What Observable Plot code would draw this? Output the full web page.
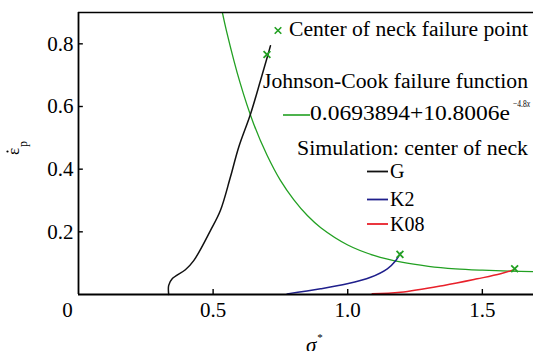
<!DOCTYPE html>
<html><head><meta charset="utf-8">
<script src="https://cdn.jsdelivr.net/npm/d3@7"></script>
<script src="https://cdn.jsdelivr.net/npm/@observablehq/plot@0.6"></script>
<style>
body{margin:0;background:#fff}
svg{display:block}
#chart svg, #chart svg text, #chart svg tspan { font-family: "Liberation Serif", serif !important; }
</style>
</head><body><div id="chart"></div>
<script>
// Johnson-Cook failure curve
const jcX = [0.53, 0.55, 0.6, 0.65, 0.7, 0.75, 0.8, 0.85, 0.9, 1.0, 1.1, 1.2, 1.3, 1.4, 1.5, 1.6, 1.7];
const jcY = [0.918, 0.840, 0.676, 0.546, 0.445, 0.364, 0.302, 0.252, 0.213, 0.158, 0.124, 0.103, 0.090, 0.082, 0.0775, 0.0744, 0.0725];
// Simulation: G
const gX = [0.335, 0.335, 0.348, 0.397, 0.428, 0.49, 0.527, 0.564, 0.595, 0.639, 0.676, 0.701, 0.713];
const gY = [0.0, 0.029, 0.05, 0.079, 0.108, 0.204, 0.268, 0.374, 0.47, 0.576, 0.683, 0.757, 0.794];
// Simulation: K2
const k2X = [0.775, 0.899, 0.998, 1.085, 1.147, 1.178, 1.196];
const k2Y = [0.002, 0.018, 0.034, 0.055, 0.082, 0.108, 0.132];
// Simulation: K08
const k08X = [1.091, 1.196, 1.357, 1.481, 1.568, 1.618];
const k08Y = [0.002, 0.007, 0.029, 0.05, 0.066, 0.079];
// Center of neck failure points
const failX = [0.70, 1.194, 1.62];
const failY = [0.766, 0.128, 0.082];

const seriesNames = ["G", "K2", "K08"];
const seriesColors = ["#111111", "#1f1f8c", "#e8202a"];
const jcColor = "#22a022";

const xTicks = [0.5, 1.0, 1.5];
const yTicks = [0.2, 0.4, 0.6, 0.8];
const originLabel = ["0"];
const xDomain = [0, 1.69];
const yDomain = [0, 0.9];

const font = "Liberation Serif, serif";
const toRows = (xs, ys, s) => xs.map((x, i) => ({x, y: ys[i], s}));
const jc = toRows(jcX, jcY, "JC");
const sims = [
  ...toRows(gX, gY, "G"),
  ...toRows(k2X, k2Y, "K2"),
  ...toRows(k08X, k08Y, "K08")
];
const fails = toRows(failX, failY, "fail");

const plot = Plot.plot({
  width: 533,
  height: 351,
  marginLeft: 78,
  marginRight: 0,
  marginTop: 12,
  marginBottom: 57,
  x: {domain: xDomain},
  y: {domain: yDomain},
  color: {domain: seriesNames, range: seriesColors},
  style: {fontFamily: font, fontSize: "21px", color: "#000", background: "#fff"},
  marks: [
    Plot.line(jc, {x: "x", y: "y", stroke: jcColor, strokeWidth: 1.3, clip: true, curve: "catmull-rom"}),
    Plot.line(sims, {x: "x", y: "y", z: "s", stroke: "s", strokeWidth: 1.5, curve: "catmull-rom"}),
    Plot.dot(fails, {x: "x", y: "y", symbol: "times", r: 3.2, stroke: jcColor, strokeWidth: 1.8}),
    Plot.ruleY([yDomain[1]], {stroke: "#000", strokeWidth: 1.6}),
    Plot.ruleY([0], {stroke: "#000", strokeWidth: 1.8}),
    Plot.ruleX([0], {stroke: "#000", strokeWidth: 1.8}),
    Plot.ruleX(xTicks, {y1: 0, y2: 0.016, stroke: "#000", strokeWidth: 1.4}),
    Plot.ruleY(yTicks, {x1: 0, x2: 0.018, stroke: "#000", strokeWidth: 1.4}),
    Plot.axisX(xTicks, {tickSize: 0, tickPadding: 8, tickFormat: d => d.toFixed(1), label: null, fontFamily: font}),
    Plot.axisY(yTicks, {tickSize: 0, tickPadding: 5, tickFormat: d => d.toFixed(1), label: null, fontFamily: font}),
    Plot.text(originLabel, {x: 0, y: 0, text: d => d, dx: -11, dy: 16, fontSize: 21, fontFamily: font})
  ]
});
document.getElementById("chart").appendChild(plot);

const svg = d3.select(plot);

// x title σ*
const xt = svg.append("text").attr("font-family", font).attr("font-size", 21)
  .attr("x", 306).attr("y", 352).attr("text-anchor", "start");
xt.append("tspan").attr("font-style", "italic").text("σ");
xt.append("tspan").attr("font-size", 11).attr("dy", -11).attr("dx", 1).text("*");

// y title ε̇p
const yg = svg.append("g").attr("transform", "translate(18.5,151.5) rotate(-90)")
  .attr("font-family", font).attr("fill", "#000");
yg.append("text").attr("font-size", 17).attr("text-anchor", "middle").attr("x", 0).attr("y", 0).text("ε");
yg.append("circle").attr("cx", 0).attr("cy", -11).attr("r", 1.1).attr("fill", "#000");
yg.append("text").attr("font-size", 12).attr("text-anchor", "start").attr("x", 4.5).attr("y", 8.5).text("p");

// legend
const lg = svg.append("g").attr("font-family", font).attr("font-size", 20).attr("fill", "#000").attr("text-anchor", "start");
const addText = (x, y, s, len) => lg.append("text").attr("x", x).attr("y", y)
  .attr("textLength", len).attr("lengthAdjust", "spacingAndGlyphs").text(s);

lg.append("path").attr("d", d3.symbol(d3.symbolTimes, 30)()).attr("transform", "translate(278,30.5)")
  .attr("stroke", jcColor).attr("stroke-width", 1.6).attr("fill", "none");
addText(289, 36, "Center of neck failure point", 239);
addText(263, 88, "Johnson-Cook failure function", 265);
lg.append("line").attr("x1", 283).attr("x2", 310).attr("y1", 115).attr("y2", 115).attr("stroke", jcColor).attr("stroke-width", 1.6);
addText(310, 120, "0.0693894+10.8006e", 200);
const sup = lg.append("text").attr("x", 513).attr("y", 107).attr("font-size", 10)
  .attr("textLength", 17).attr("lengthAdjust", "spacingAndGlyphs");
sup.append("tspan").text("\u22124.8");
sup.append("tspan").attr("font-style", "italic").text("x");
addText(297, 155, "Simulation: center of neck", 231);
const rowY = [171.5, 199.5, 224];
seriesNames.forEach((s, i) => {
  lg.append("line").attr("x1", 367).attr("x2", 388).attr("y1", rowY[i]).attr("y2", rowY[i])
    .attr("stroke", seriesColors[i]).attr("stroke-width", 1.8);
  lg.append("text").attr("x", 390).attr("y", rowY[i] + 6.5).text(s);
});
</script>
</body></html>
